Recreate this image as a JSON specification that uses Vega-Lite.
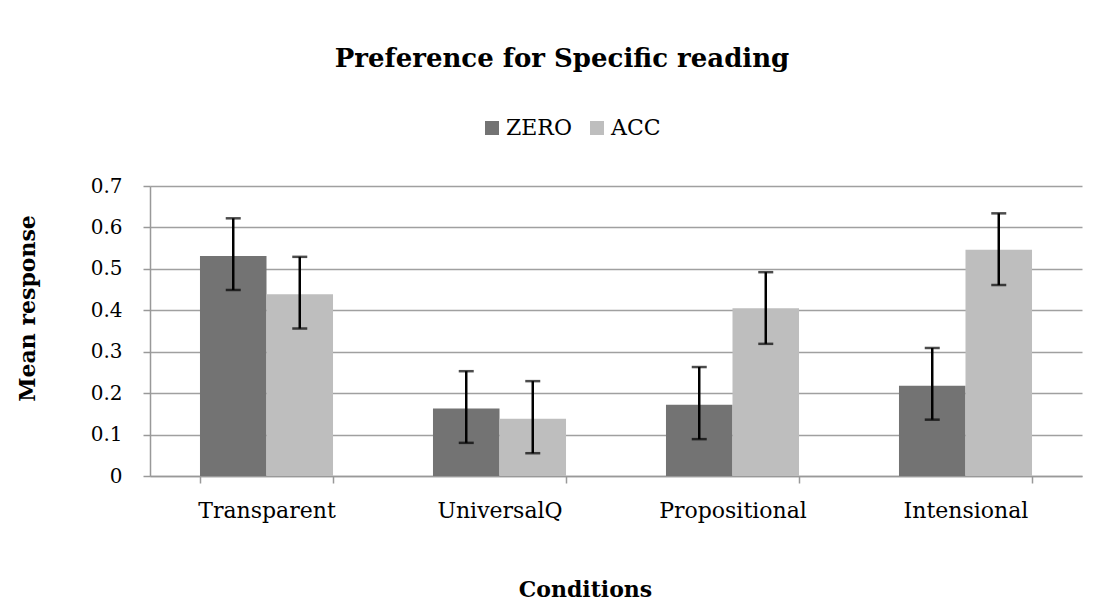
{
  "$schema": "https://vega.github.io/schema/vega-lite/v6.json",
  "width": 932,
  "height": 290,
  "autosize": {"type": "none"},
  "padding": {"left": 150, "top": 186, "right": 22, "bottom": 125},
  "background": "white",
  "config": {
    "font": "DejaVu Serif",
    "view": {"stroke": null}
  },
  "title": {
    "text": "Preference for Specific reading",
    "fontSize": 26,
    "fontWeight": "bold",
    "color": "black",
    "anchor": "middle",
    "frame": "group",
    "dx": -54,
    "offset": 45
  },
  "data": {
    "values": [
      {"condition": "Transparent", "series": "ZERO", "mean": 0.531, "lo": 0.449, "hi": 0.622},
      {"condition": "Transparent", "series": "ACC", "mean": 0.439, "lo": 0.356, "hi": 0.529},
      {"condition": "UniversalQ", "series": "ZERO", "mean": 0.163, "lo": 0.080, "hi": 0.253},
      {"condition": "UniversalQ", "series": "ACC", "mean": 0.138, "lo": 0.055, "hi": 0.229},
      {"condition": "Propositional", "series": "ZERO", "mean": 0.172, "lo": 0.089, "hi": 0.263},
      {"condition": "Propositional", "series": "ACC", "mean": 0.405, "lo": 0.319, "hi": 0.492},
      {"condition": "Intensional", "series": "ZERO", "mean": 0.218, "lo": 0.136, "hi": 0.309},
      {"condition": "Intensional", "series": "ACC", "mean": 0.546, "lo": 0.461, "hi": 0.634}
    ]
  },
  "encoding": {
    "x": {
      "field": "condition",
      "type": "nominal",
      "sort": ["Transparent", "UniversalQ", "Propositional", "Intensional"],
      "scale": {"paddingInner": 0.429, "paddingOuter": 0.2145},
      "axis": {
        "title": "Conditions",
        "titleFontSize": 22,
        "titleFontWeight": "bold",
        "titleColor": "black",
        "titleX": 435,
        "titleY": 120,
        "titleBaseline": "alphabetic",
        "labelAngle": 0,
        "labelFontSize": 22,
        "labelColor": "black",
        "labelPadding": 17,
        "tickBand": "extent",
        "tickSize": 7,
        "tickWidth": 1.5,
        "tickColor": "#999999",
        "domainColor": "#999999",
        "domainWidth": 1.5,
        "grid": false
      }
    },
    "xOffset": {
      "field": "series",
      "type": "nominal",
      "sort": ["ZERO", "ACC"],
      "scale": {"paddingInner": 0, "paddingOuter": 0}
    }
  },
  "layer": [
    {
      "mark": {"type": "bar"},
      "encoding": {
        "y": {
          "field": "mean",
          "type": "quantitative",
          "scale": {"domain": [0, 0.7], "nice": false},
          "axis": {
            "title": "Mean response",
            "titleFontSize": 22,
            "titleFontWeight": "bold",
            "titleColor": "black",
            "titleX": -116,
            "titleY": 122,
            "titleBaseline": "alphabetic",
            "values": [0, 0.1, 0.2, 0.3, 0.4, 0.5, 0.6, 0.7],
            "format": ".1~f",
            "labelFontSize": 20,
            "labelColor": "black",
            "labelPadding": 21,
            "tickSize": 7,
            "tickWidth": 1.5,
            "tickColor": "#999999",
            "domainColor": "#999999",
            "domainWidth": 1.5,
            "grid": true,
            "gridColor": "#a0a0a0",
            "gridWidth": 1.5
          }
        },
        "color": {
          "field": "series",
          "type": "nominal",
          "scale": {"domain": ["ZERO", "ACC"], "range": ["#737373", "#bebebe"]},
          "legend": {
            "title": null,
            "orient": "none",
            "direction": "horizontal",
            "legendX": 331,
            "legendY": -69,
            "symbolType": "square",
            "symbolSize": 196,
            "symbolStrokeWidth": 0,
            "labelFontSize": 22,
            "labelColor": "black",
            "labelOffset": 3,
            "columnPadding": 14
          }
        }
      }
    },
    {
      "mark": {"type": "rule", "color": "black", "strokeWidth": 2.5},
      "encoding": {
        "y": {"field": "lo", "type": "quantitative"},
        "y2": {"field": "hi"}
      }
    },
    {
      "mark": {"type": "tick", "color": "black", "size": 15, "thickness": 2.5},
      "encoding": {
        "y": {"field": "lo", "type": "quantitative"}
      }
    },
    {
      "mark": {"type": "tick", "color": "black", "size": 15, "thickness": 2.5},
      "encoding": {
        "y": {"field": "hi", "type": "quantitative"}
      }
    }
  ]
}
